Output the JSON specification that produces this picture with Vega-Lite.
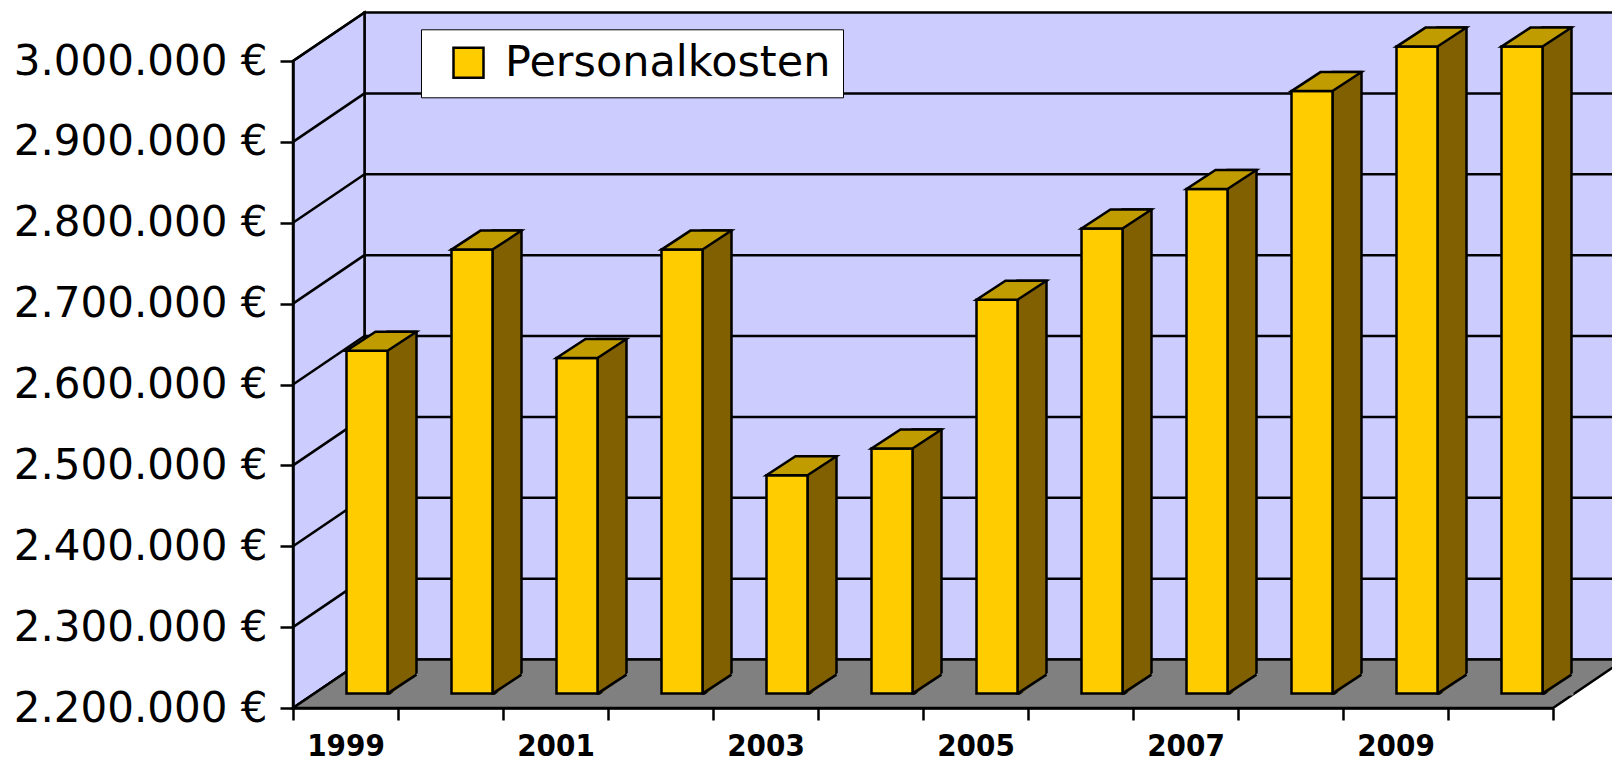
{
  "$schema": "https://vega.github.io/schema/vega-lite/v6.json",
  "width": 1260,
  "height": 647,
  "autosize": {"type": "none"},
  "padding": {"left": 293, "top": 61, "right": 59, "bottom": 52},
  "background": "white",
  "config": {"view": {"stroke": null}, "font": "DejaVu Sans"},
  "datasets": {
    "kosten": [
      {"Jahr": 1999, "Personalkosten": 2624000},
      {"Jahr": 2000, "Personalkosten": 2749000},
      {"Jahr": 2001, "Personalkosten": 2615000},
      {"Jahr": 2002, "Personalkosten": 2749000},
      {"Jahr": 2003, "Personalkosten": 2470000},
      {"Jahr": 2004, "Personalkosten": 2503000},
      {"Jahr": 2005, "Personalkosten": 2687000},
      {"Jahr": 2006, "Personalkosten": 2775000},
      {"Jahr": 2007, "Personalkosten": 2824000},
      {"Jahr": 2008, "Personalkosten": 2945000},
      {"Jahr": 2009, "Personalkosten": 3000000},
      {"Jahr": 2010, "Personalkosten": 3000000}
    ],
    "raster": [
      {"Wert": 2200000}, {"Wert": 2300000}, {"Wert": 2400000}, {"Wert": 2500000},
      {"Wert": 2600000}, {"Wert": 2700000}, {"Wert": 2800000}, {"Wert": 2900000},
      {"Wert": 3000000}
    ]
  },
  "layer": [
    {
      "data": {"values": [{}]},
      "mark": {"type": "rect", "fill": "#CCCCFF", "stroke": "black", "strokeWidth": 2.5, "xOffset": 71.5, "x2Offset": 71.5, "yOffset": -48.5, "y2Offset": -48.5},
      "encoding": {
        "x": {"datum": 1998.5, "type": "quantitative", "scale": {"domain": [1998.5, 2010.5], "nice": false, "zero": false, "padding": 0},
          "axis": {"values": [1998.5, 1999.5, 2000.5, 2001.5, 2002.5, 2003.5, 2004.5, 2005.5, 2006.5, 2007.5, 2008.5, 2009.5, 2010.5],
            "labelExpr": "(datum.value - 1998.5) % 2 == 0 && datum.value < 2010 ? format(datum.value + 0.5, 'd') : ''",
            "title": null, "grid": false, "tickSize": 12, "tickWidth": 2.5, "tickColor": "black", "domainColor": "black", "domainWidth": 2.5,
            "labelFont": "'DejaVu Sans Condensed', 'DejaVu Sans'", "labelFontSize": 31, "labelFontWeight": "bold", "labelColor": "black", "labelPadding": 11,
            "labelOffset": 52.5, "labelOverlap": false, "labelFlush": false, "labelBound": false, "labelLimit": 500, "zindex": 1}},
        "x2": {"datum": 2012},
        "y": {"datum": 3000000, "type": "quantitative", "scale": {"domain": [2200000, 3000000], "nice": false, "zero": false, "padding": 0},
          "axis": {"values": [2200000, 2300000, 2400000, 2500000, 2600000, 2700000, 2800000, 2900000, 3000000],
            "labelExpr": "replace(replace(format(datum.value, ',.0f'), ',', '.'), ',', '.') + ' €'",
            "title": null, "grid": false, "tickSize": 13, "tickWidth": 2.5, "tickColor": "black", "domainColor": "black", "domainWidth": 2.5,
            "labelFont": "DejaVu Sans", "labelFontSize": 42, "labelColor": "black", "labelPadding": 13, "labelOverlap": false, "labelLimit": 500, "zindex": 1}},
        "y2": {"datum": 2200000}
      }
    },
    {
      "data": {"name": "raster"},
      "transform": [{"filter": "datum.Wert > 2200000 && datum.Wert < 3000000"}],
      "mark": {"type": "rule", "stroke": "black", "strokeWidth": 2.5, "xOffset": 71.5, "x2Offset": 71.5, "yOffset": -48.5},
      "encoding": {
        "x": {"datum": 1998.5, "type": "quantitative", "scale": {"domain": [1998.5, 2010.5], "nice": false, "zero": false, "padding": 0}},
        "x2": {"datum": 2012},
        "y": {"field": "Wert", "type": "quantitative", "scale": {"domain": [2200000, 3000000], "nice": false, "zero": false, "padding": 0}, "title": null}
      }
    },
    {
      "data": {"values": [{}]},
      "mark": {"type": "point", "shape": "M0 0 L0 -647 L71.5 -695.5 L71.5 -48.5 Z", "size": 4, "filled": true, "fill": "#CCCCFF", "stroke": "black", "strokeWidth": 2.5, "opacity": 1},
      "encoding": {
        "x": {"datum": 1998.5, "type": "quantitative", "scale": {"domain": [1998.5, 2010.5], "nice": false, "zero": false, "padding": 0}},
        "y": {"datum": 2200000, "type": "quantitative", "scale": {"domain": [2200000, 3000000], "nice": false, "zero": false, "padding": 0}}
      }
    },
    {
      "data": {"name": "raster"},
      "mark": {"type": "point", "shape": "M0 0 L71.5 -48.5", "size": 4, "filled": false, "stroke": "black", "strokeWidth": 2.5, "opacity": 1},
      "encoding": {
        "x": {"datum": 1998.5, "type": "quantitative", "scale": {"domain": [1998.5, 2010.5], "nice": false, "zero": false, "padding": 0}},
        "y": {"field": "Wert", "type": "quantitative", "scale": {"domain": [2200000, 3000000], "nice": false, "zero": false, "padding": 0}, "title": null}
      }
    },
    {
      "data": {"values": [{}]},
      "mark": {"type": "point", "shape": "M0 0 L1260 0 L1331.5 -48.5 L71.5 -48.5 Z", "size": 4, "filled": true, "fill": "#808080", "stroke": "black", "strokeWidth": 2.5, "opacity": 1},
      "encoding": {
        "x": {"datum": 1998.5, "type": "quantitative", "scale": {"domain": [1998.5, 2010.5], "nice": false, "zero": false, "padding": 0}},
        "y": {"datum": 2200000, "type": "quantitative", "scale": {"domain": [2200000, 3000000], "nice": false, "zero": false, "padding": 0}}
      }
    },
    {
      "data": {"name": "kosten"},
      "mark": {"type": "bar", "size": 29, "xOffset": 56.5, "yOffset": -33.4, "y2Offset": -14.4, "fill": "#806000", "stroke": "black", "strokeWidth": 2.5},
      "encoding": {
        "x": {"field": "Jahr", "type": "quantitative", "scale": {"domain": [1998.5, 2010.5], "nice": false, "zero": false, "padding": 0}, "title": null},
        "y": {"field": "Personalkosten", "type": "quantitative", "scale": {"domain": [2200000, 3000000], "nice": false, "zero": false, "padding": 0}, "title": null},
        "y2": {"datum": 2200000}
      }
    },
    {
      "data": {"name": "kosten"},
      "mark": {"type": "point", "shape": "M1.5 1.8 L31 1.8 L31 -21 Z", "size": 4, "filled": true, "fill": "#808080", "strokeWidth": 0, "opacity": 1, "xOffset": 42, "yOffset": -14.4},
      "encoding": {
        "x": {"field": "Jahr", "type": "quantitative", "scale": {"domain": [1998.5, 2010.5], "nice": false, "zero": false, "padding": 0}, "title": null},
        "y": {"datum": 2200000, "type": "quantitative", "scale": {"domain": [2200000, 3000000], "nice": false, "zero": false, "padding": 0}}
      }
    },
    {
      "data": {"name": "kosten"},
      "mark": {"type": "point", "shape": "M0 0 L29 -19", "size": 4, "filled": false, "stroke": "black", "strokeWidth": 2.5, "opacity": 1, "xOffset": 42, "yOffset": -14.4},
      "encoding": {
        "x": {"field": "Jahr", "type": "quantitative", "scale": {"domain": [1998.5, 2010.5], "nice": false, "zero": false, "padding": 0}, "title": null},
        "y": {"datum": 2200000, "type": "quantitative", "scale": {"domain": [2200000, 3000000], "nice": false, "zero": false, "padding": 0}}
      }
    },
    {
      "data": {"name": "kosten"},
      "mark": {"type": "bar", "size": 41, "xOffset": 21.5, "yOffset": -14.4, "y2Offset": -14.4, "stroke": "black", "strokeWidth": 2.5, "opacity": 1},
      "encoding": {
        "x": {"field": "Jahr", "type": "quantitative", "scale": {"domain": [1998.5, 2010.5], "nice": false, "zero": false, "padding": 0}, "title": null},
        "y": {"field": "Personalkosten", "type": "quantitative", "scale": {"domain": [2200000, 3000000], "nice": false, "zero": false, "padding": 0}, "title": null},
        "y2": {"datum": 2200000},
        "color": {"datum": "Personalkosten", "type": "nominal", "scale": {"range": ["#FFCC00"]},
          "legend": {"orient": "none", "legendX": 128, "legendY": -31.7, "title": null, "symbolType": "square", "symbolSize": 900,
            "symbolStrokeColor": "black", "symbolStrokeWidth": 2.5, "symbolOffset": 14, "labelOffset": 15, "labelFont": "DejaVu Sans",
            "labelFontSize": 43, "labelColor": "black", "labelLimit": 1000, "padding": 12, "strokeColor": "black", "fillColor": "white",
            "encode": {"legend": {"update": {"strokeWidth": {"value": 2.5}}}}}}
      }
    },
    {
      "data": {"name": "kosten"},
      "mark": {"type": "point", "shape": "M-20.5 0 L20.5 0 L49.5 -19 L8.5 -19 Z", "size": 4, "filled": true, "fill": "#C09C00", "stroke": "black", "strokeWidth": 2.5, "opacity": 1, "xOffset": 21.5, "yOffset": -14.4},
      "encoding": {
        "x": {"field": "Jahr", "type": "quantitative", "scale": {"domain": [1998.5, 2010.5], "nice": false, "zero": false, "padding": 0}, "title": null},
        "y": {"field": "Personalkosten", "type": "quantitative", "scale": {"domain": [2200000, 3000000], "nice": false, "zero": false, "padding": 0}, "title": null}
      }
    }
  ]
}
